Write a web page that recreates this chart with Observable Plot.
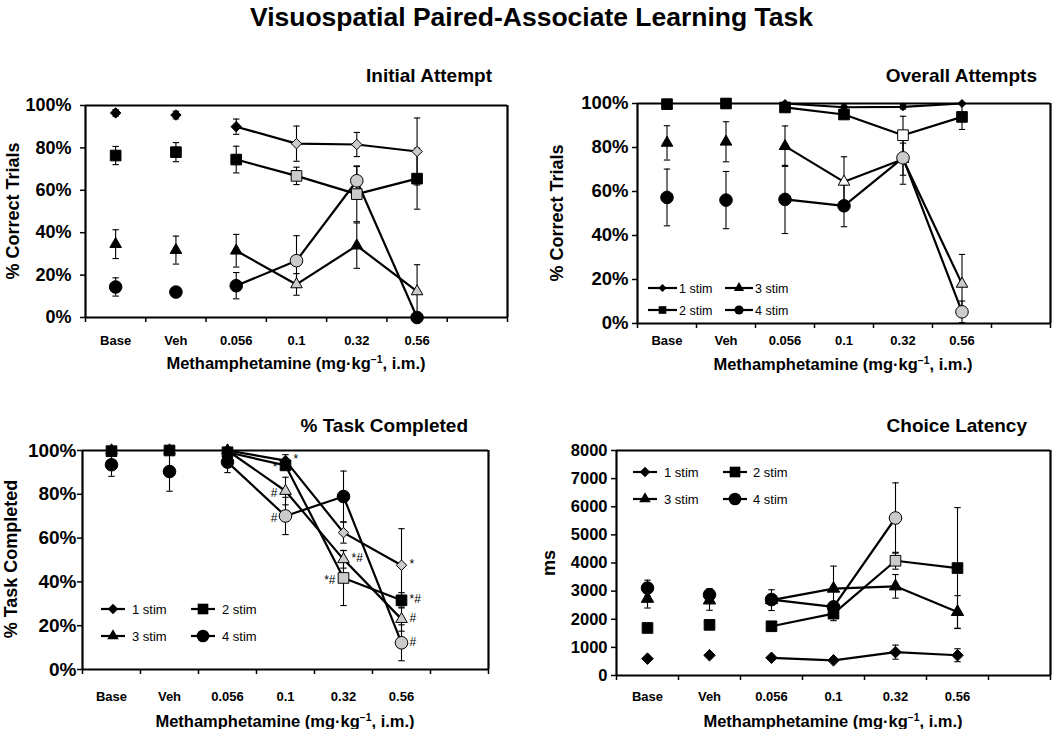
<!DOCTYPE html>
<html><head><meta charset="utf-8">
<script src="https://cdn.jsdelivr.net/npm/d3@7"></script>
<script src="https://cdn.jsdelivr.net/npm/@observablehq/plot@0.6"></script>
<style>
body{margin:0;background:#fff;font-family:"Liberation Sans",Arial,Helvetica,sans-serif;color:#000;}
#root{position:relative;width:1063px;height:729px;overflow:hidden;background:#fff;}
.abs{position:absolute;white-space:nowrap;font-weight:bold;}
.rot{transform:rotate(-90deg);transform-origin:50% 50%;text-align:center;}
sup{font-size:0.62em;vertical-align:0.55em;line-height:0;}
</style></head>
<body><div id="root"></div>
<script>
// ---------- shared categories ----------
const categories = ["Base", "Veh", "0.056", "0.1", "0.32", "0.56"];
const series = ["1 stim", "2 stim", "3 stim", "4 stim"];
const pctTicks = [0, 20, 40, 60, 80, 100];
const msTicks = [0, 1000, 2000, 3000, 4000, 5000, 6000, 7000, 8000];
// significance fill code: 0 = black, 1 = gray, 2 = white

// ---------- Initial Attempt (% correct) ----------
const initMean1 = [96.5, 95.5, 90.0, 82.0, 81.6, 78.3];
const initMean2 = [76.4, 78.0, 74.5, 66.8, 58.2, 65.5];
const initMean3 = [34.6, 31.8, 31.5, 15.6, 33.9, 12.3];
const initMean4 = [14.4, 12.0, 15.0, 26.8, 64.5, 0];
const initErr1 = [1.5, 1.8, 3.6, 8.3, 5.7, 15.8];
const initErr2 = [4.3, 4.5, 6.3, 4.1, 13.0, 14.4];
const initErr3 = [6.8, 6.6, 7.7, 5.1, 10.7, 12.6];
const initErr4 = [4.3, 1.0, 6.2, 11.8, 7.0, 0];
const initSig1 = [0, 0, 0, 1, 1, 1];
const initSig2 = [0, 0, 0, 1, 1, 0];
const initSig3 = [0, 0, 0, 1, 0, 1];
const initSig4 = [0, 0, 0, 1, 1, 0];

// ---------- Overall Attempts (% correct) ----------
const allMean1 = [100, 99.7, 100, 98.3, 98.5, 100];
const allMean2 = [99.7, 100, 98.2, 95.0, 85.6, 93.9];
const allMean3 = [82.1, 82.6, 80.6, 64.4, 74.7, 18.0];
const allMean4 = [57.3, 56.1, 56.4, 53.5, 75.3, 5.3];
const allErr1 = [0, 0.3, 0, 1.0, 1.0, 0];
const allErr2 = [0.3, 0, 1.0, 1.5, 8.6, 5.7];
const allErr3 = [7.8, 9.1, 9.2, 11.4, 7.3, 13.4];
const allErr4 = [12.9, 13.0, 15.5, 9.5, 12.0, 4.9];
const allSig1 = [0, 0, 0, 0, 0, 0];
const allSig2 = [0, 0, 0, 0, 2, 0];
const allSig3 = [0, 0, 0, 2, 2, 1];
const allSig4 = [0, 0, 0, 0, 1, 1];

// ---------- % Task Completed ----------
const taskMean1 = [100, 100, 100, 95.4, 62.5, 47.6];
const taskMean2 = [99.7, 100, 99.2, 93.2, 41.8, 31.6];
const taskMean3 = [100, 100, 100, 81.5, 50.3, 23.0];
const taskMean4 = [93.5, 90.4, 94.7, 70.1, 79.0, 12.2];
const taskErr1 = [0, 0, 0.3, 2.7, 4.8, 16.7];
const taskErr2 = [0.3, 0, 0.8, 2.0, 12.6, 3.5];
const taskErr3 = [0, 0, 0, 6.3, 4.0, 5.5];
const taskErr4 = [5.3, 9.0, 4.8, 8.5, 11.6, 8.2];
const taskSig1 = [0, 0, 0, 0, 1, 1];
const taskSig2 = [0, 0, 0, 0, 1, 0];
const taskSig3 = [0, 0, 0, 1, 1, 1];
const taskSig4 = [0, 0, 0, 1, 0, 1];
const taskAnn1 = ["", "", "", "*", "", "*"];
const taskAnn2 = ["", "", "", "*", "*#", "*#"];
const taskAnn3 = ["", "", "", "#", "*#", "#"];
const taskAnn4 = ["", "", "", "#", "", "#"];

// ---------- Choice Latency (ms) ----------
const latMean1 = [600, 720, 630, 540, 830, 720];
const latMean2 = [1690, 1800, 1750, 2200, 4080, 3820];
const latMean3 = [2730, 2670, 2680, 3090, 3170, 2260];
const latMean4 = [3110, 2870, 2700, 2440, 5600, null];
const latErr1 = [40, 40, 40, 40, 250, 230];
const latErr2 = [80, 150, 60, 250, 300, 2150];
const latErr3 = [330, 350, 370, 800, 420, 580];
const latErr4 = [280, 220, 0, 0, 1250, null];
const latSig1 = [0, 0, 0, 0, 0, 0];
const latSig2 = [0, 0, 0, 0, 1, 0];
const latSig3 = [0, 0, 0, 0, 0, 0];
const latSig4 = [0, 0, 0, 0, 1, 0];

// ---------- helpers ----------
const FONT = "'Liberation Sans', Arial, Helvetica, sans-serif";
const fillFor = s => (s === 1 ? "#cbcbcb" : s === 2 ? "#ffffff" : "#000000");
const symbolFor = ["diamond2", "square", "triangle", "circle"];
const capSymbol = {draw(ctx) { ctx.moveTo(-3.2, 0); ctx.lineTo(3.2, 0); }};

function buildRows(means, errs, sigs, anns) {
  const rows = [];
  series.forEach((s, k) => {
    categories.forEach((c, i) => {
      const m = means[k][i];
      if (m == null) return;
      rows.push({k, series: s, cat: c, idx: i, pos: i + 0.5, mean: m,
        err: errs[k][i] || 0, sig: sigs[k][i], ann: anns ? anns[k][i] : ""});
    });
  });
  return rows;
}

const root = document.getElementById("root");
function addDiv(html, style, cls = "abs") {
  const d = document.createElement("div");
  d.className = cls;
  d.innerHTML = html;
  Object.assign(d.style, style);
  root.appendChild(d);
  return d;
}

function panel(cfg) {
  const rows = buildRows(cfg.means, cfg.errs, cfg.sigs, cfg.anns);
  const withErr = rows.filter(d => d.err > 0);
  const nSlots = categories.length + 1;
  const marks = [
    Plot.axisY({ticks: cfg.yTicks, tickFormat: cfg.yFormat, tickSize: 5, tickPadding: cfg.yPad,
      fontSize: cfg.yFont, fontWeight: "bold", label: null, strokeWidth: 1.5}),
    Plot.axisX({ticks: d3.range(nSlots + 1), tickFormat: () => "", tickSize: 5,
      label: null, strokeWidth: 1.5}),
    Plot.axisX({ticks: categories.map((c, i) => i + 0.5), tickFormat: v => categories[Math.round(v - 0.5)],
      tickSize: 0, tickPadding: cfg.xPad, fontSize: 13, fontWeight: "bold", label: null}),
    Plot.line(rows.filter(d => d.idx >= 2), {x: "pos", y: "mean", z: "series", stroke: "black", strokeWidth: 2.2}),
    Plot.ruleX(withErr, {x: "pos", y1: d => Math.max(0, d.mean - d.err), y2: d => Math.min(cfg.yMax, d.mean + d.err), stroke: "black", strokeWidth: 1.1}),
    Plot.dot(withErr, {x: "pos", y: d => Math.min(cfg.yMax, d.mean + d.err), symbol: capSymbol, r: 3, fill: "none", stroke: "black", strokeWidth: 1.1}),
    Plot.dot(withErr.filter(d => d.mean - d.err >= 0), {x: "pos", y: d => d.mean - d.err, symbol: capSymbol, r: 3, fill: "none", stroke: "black", strokeWidth: 1.1})
  ];
  for (const k of cfg.order) {
    marks.push(Plot.dot(rows.filter(d => d.k === k), {x: "pos", y: "mean", symbol: symbolFor[k], r: cfg.r[k],
      fill: d => fillFor(d.sig), stroke: "black", strokeWidth: 1}));
  }
  if (cfg.anns) {
    const isLeft = d => cfg.annLeft.some(([s, c]) => s === d.series && c === d.cat);
    marks.push(Plot.text(rows.filter(d => d.ann && !isLeft(d)), {x: "pos", y: "mean", text: "ann", textAnchor: "start", dx: 8, dy: -1, fontSize: 12, fill: "black"}));
    marks.push(Plot.text(rows.filter(d => d.ann && isLeft(d)), {x: "pos", y: "mean", text: "ann", textAnchor: "end", dx: -8, dy: 2, fontSize: 12, fill: "black"}));
  }
  // plot box: rules at the ends of both scales
  marks.push(Plot.ruleY([0, cfg.yMax], {stroke: "black", strokeWidth: 2.2}));
  marks.push(Plot.ruleX([0, nSlots], {stroke: "black", strokeWidth: 2.2}));
  const svg = Plot.plot({
    width: cfg.w, height: cfg.h,
    marginLeft: cfg.m[0], marginRight: cfg.m[1], marginTop: cfg.m[2], marginBottom: cfg.m[3],
    style: {fontFamily: FONT, background: "transparent", overflow: "visible", color: "black"},
    x: {type: "linear", domain: [0, nSlots]},
    y: {domain: [0, cfg.yMax]},
    marks
  });
  const wrap = document.createElement("div");
  wrap.style.cssText = `position:absolute;left:${cfg.left}px;top:${cfg.top}px;width:${cfg.w}px;height:${cfg.h}px;`;
  wrap.appendChild(svg);
  root.appendChild(wrap);
}

const pct = d => d + "%";
const rStd = [4.7, 6.0, 4.3, 6.3];

panel({left: 0, top: 95, w: 530, h: 290, m: [85, 23, 10, 68], yMax: 100, yTicks: pctTicks, yFormat: pct, yFont: 18, yPad: 9, xPad: 18,
  means: [initMean1, initMean2, initMean3, initMean4], errs: [initErr1, initErr2, initErr3, initErr4], sigs: [initSig1, initSig2, initSig3, initSig4],
  r: rStd, order: [2, 3, 0, 1]});
panel({left: 530, top: 95, w: 533, h: 290, m: [107, 13, 8, 62], yMax: 100, yTicks: pctTicks, yFormat: pct, yFont: 18.5, yPad: 4, xPad: 12,
  means: [allMean1, allMean2, allMean3, allMean4], errs: [allErr1, allErr2, allErr3, allErr4], sigs: [allSig1, allSig2, allSig3, allSig4],
  r: [3.6, 6.0, 4.3, 6.3], order: [2, 3, 0, 1]});
panel({left: 0, top: 440, w: 530, h: 289, m: [82, 42, 10, 60], yMax: 100, yTicks: pctTicks, yFormat: pct, yFont: 19, yPad: 1, xPad: 22,
  means: [taskMean1, taskMean2, taskMean3, taskMean4], errs: [taskErr1, taskErr2, taskErr3, taskErr4], sigs: [taskSig1, taskSig2, taskSig3, taskSig4],
  r: rStd, order: [2, 3, 0, 1],
  anns: [taskAnn1, taskAnn2, taskAnn3, taskAnn4],
  annLeft: [["2 stim", "0.1"], ["3 stim", "0.1"], ["4 stim", "0.1"], ["2 stim", "0.32"]]});
panel({left: 530, top: 440, w: 533, h: 289, m: [86, 13, 10, 54], yMax: 8000, yTicks: msTicks, yFormat: d => String(d), yFont: 16.5, yPad: 4, xPad: 16,
  means: [latMean1, latMean2, latMean3, latMean4], errs: [latErr1, latErr2, latErr3, latErr4], sigs: [latSig1, latSig2, latSig3, latSig4],
  r: [5.2, 6.0, 4.6, 6.3], order: [3, 2, 0, 1]});

// ---------- titles and axis titles ----------
addDiv("Visuospatial Paired-Associate Learning Task", {left: "0px", top: "4px", width: "1063px", textAlign: "center", fontSize: "26.5px", lineHeight: "26.5px",
  fontFamily: "'Liberation Sans Narrow', 'Liberation Sans', Arial, sans-serif"});
const ptitle = (t, right, cy) => addDiv(t, {left: "0px", width: right + "px", textAlign: "right", top: (cy - 9.3) + "px", fontSize: "19px", lineHeight: "19px"});
ptitle("Initial Attempt", 492, 75);
ptitle("Overall Attempts", 1037, 75);
ptitle("% Task Completed", 468, 425);
ptitle("Choice Latency", 1027, 425);
const xTitle = "Methamphetamine (mg·kg<sup>−1</sup>, i.m.)";
const xt = (cx, cy) => addDiv(xTitle, {left: (cx - 200) + "px", width: "400px", textAlign: "center", top: (cy - 8.1) + "px", fontSize: "16.5px", lineHeight: "16.5px"});
xt(296, 363); xt(843, 364); xt(285, 721); xt(833, 721);
const yt = (t, cx, cy) => addDiv(t, {left: (cx - 100) + "px", width: "200px", top: (cy - 9) + "px", fontSize: "18px", lineHeight: "18px"}, "abs rot");
yt("% Correct Trials", 13, 211);
yt("% Correct Trials", 557, 213);
yt("% Task Completed", 11, 559);
yt("ms", 549, 563);

// ---------- legends ----------
const leg = d3.create("svg").attr("width", 1063).attr("height", 729)
  .style("position", "absolute").style("left", "0px").style("top", "0px").style("pointer-events", "none");
const d3sym = {diamond2: d3.symbolDiamond2, square: d3.symbolSquare, triangle: d3.symbolTriangle, circle: d3.symbolCircle};
function legendEntry(k, x1, x2, tx, y, fs, rr) {
  leg.append("line").attr("x1", x1).attr("x2", x2).attr("y1", y).attr("y2", y).attr("stroke", "black").attr("stroke-width", 2.2);
  leg.append("path").attr("d", d3.symbol(d3sym[symbolFor[k]], Math.PI * rr[k] * rr[k])())
    .attr("transform", `translate(${(x1 + x2) / 2},${y})`).attr("fill", "black");
  leg.append("text").attr("x", tx).attr("y", y).attr("dy", "0.36em").attr("font-size", fs)
    .attr("font-family", FONT).text(series[k]);
}
// Overall Attempts legend
const rSmall = [3.6, 4.3, 3.8, 4.6];
legendEntry(0, 648, 677, 679, 288, 12.5, rSmall);
legendEntry(2, 725, 753, 755, 288, 12.5, rSmall);
legendEntry(1, 648, 677, 679, 310, 12.5, rSmall);
legendEntry(3, 725, 753, 755, 310, 12.5, rSmall);
// Task Completed legend
legendEntry(0, 101, 125, 132, 609, 13, rStd);
legendEntry(1, 191, 215, 222, 609, 13, rStd);
legendEntry(2, 101, 125, 132, 636, 13, rStd);
legendEntry(3, 191, 215, 222, 636, 13, rStd);
// Choice Latency legend
legendEntry(0, 633, 657, 664, 472, 13, rStd);
legendEntry(1, 723, 747, 753, 472, 13, rStd);
legendEntry(2, 633, 657, 664, 499, 13, rStd);
legendEntry(3, 723, 747, 753, 499, 13, rStd);
root.appendChild(leg.node());
</script>
</body></html>
